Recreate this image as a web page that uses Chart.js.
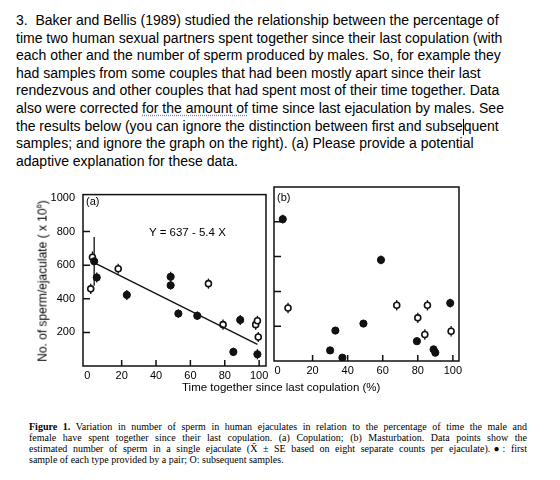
<!DOCTYPE html>
<html>
<head>
<meta charset="utf-8">
<script src="https://cdn.jsdelivr.net/npm/chart.js@4.4.0/dist/chart.umd.min.js"></script>
<style>
  body { margin: 0; width: 560px; height: 480px; background: #fff; position: relative; overflow: hidden;
         font-family: Arial, "Liberation Sans", sans-serif; color: #111; }
  #question { position: absolute; left: 16px; top: 12px; font-size: 14px; line-height: 17.6px; white-space: nowrap; color: #000; }
  .dots { text-decoration: underline dotted #7f7fcf; text-underline-offset: 2px; }
  .cursor { display: inline-block; width: 0; height: 16px; border-left: 1px solid #000; vertical-align: -4px; }
  .box { position: absolute; }
  .lbl { position: absolute; font-size: 11px; white-space: nowrap; line-height: 1; color: #000; }
  #ytitle { position: absolute; left: 42px; top: 281px; font-size: 12px; white-space: nowrap; color: #000;
            transform: translate(-50%, -50%) rotate(-90deg); }
  #caption { position: absolute; left: 29px; top: 421px; width: 498px; font-family: "Liberation Serif", "Times New Roman", serif;
             font-size: 10px; line-height: 11px; color: #000; }
  #caption div { text-align: justify; text-align-last: justify; white-space: nowrap; }
  #caption div.last { text-align-last: left; }
</style>
</head>
<body>

<div id="question">
3.&nbsp; Baker and Bellis (1989) studied the relationship between the percentage of<br>
time two human sexual partners spent together since their last copulation (with<br>
each other and the number of sperm produced by males. So, for example they<br>
had samples from some couples that had been mostly apart since their last<br>
rendezvous and other couples that had spent most of their time together. Data<br>
also were corrected <span class="dots">for the amount of</span> time since last ejaculation by males. See<br>
the results below (you can ignore the distinction between first and subse<span class="cursor"></span>quent<br>
samples; and ignore the graph on the right). (a) Please provide a potential<br>
adaptive explanation for these data.
</div>

<div class="box" style="left:0px; top:180px; width:272px; height:220px;"><canvas id="panelA" width="272" height="220"></canvas></div>
<div class="box" style="left:268px; top:180px; width:200px; height:220px;"><canvas id="panelB" width="200" height="220"></canvas></div>

<div class="lbl" style="left:86px; top:196px;">(a)</div>
<div class="lbl" style="left:277px; top:192px;">(b)</div>
<div class="lbl" style="left:149px; top:227px; font-size:11.5px;">Y = 637 - 5.4 X</div>
<div class="lbl" style="left:182px; top:382px; font-size:11.5px;">Time together since last copulation (%)</div>
<div id="ytitle">No. of sperm/ejaculate ( x 10<sup style="font-size:7.5px">6</sup>)</div>

<div id="caption">
  <div><b>Figure 1.</b> Variation in number of sperm in human ejaculates in relation to the percentage of time the male and</div>
  <div>female have spent together since their last copulation. (a) Copulation; (b) Masturbation. Data points show the</div>
  <div>estimated number of sperm in a single ejaculate (X&#772; ± SE based on eight separate counts per ejaculate).&#9679;: first</div>
  <div class="last">sample of each type provided by a pair; O: subsequent samples.</div>
</div>

<script>
// eixos
const xTickVals = [0, 20, 40, 60, 80, 100];
const yTickVals = [200, 400, 600, 800, 1000];
const innerTicksX = [20, 40, 60, 80, 100];
const innerTicksY = [200, 400, 600, 800];

// (a) Copulation - first samples (filled)
const aFirstX  = [4, 5.5, 23, 48.5, 48.5, 53, 64, 89, 85, 99];
const aFirstY  = [623, 527, 423, 531, 480, 312, 299, 274, 84, 70];
const aFirstSE = [145, 30, 30, 30, 25, 25, 25, 30, 25, 30];
// (a) subsequent samples (open)
const aSubX  = [3, 2, 18, 70.5, 79, 98, 99, 99.5];
const aSubY  = [647, 459, 579, 490, 246, 246, 269, 173];
const aSubSE = [35, 30, 30, 30, 30, 30, 30, 30];
// linha de regressao
const regX = [3, 99];
const regY = [620, 128];

// (b) Masturbation - first samples (filled)
const bFirstX  = [3, 59, 98.5, 49, 33, 79.5, 30, 37, 89, 90];
const bFirstY  = [815, 581, 333, 215, 175, 114, 61, 19, 67, 48];
const bFirstSE = [25, 25, 25, 20, 20, 20, 20, 20, 20, 20];
// (b) subsequent samples (open)
const bSubX  = [6, 68, 85.5, 80, 99, 84];
const bSubY  = [305, 320, 320, 248, 171, 152];
const bSubSE = [30, 30, 30, 30, 30, 30];

const ink = '#111';
const pts = (xs, ys) => xs.map((x, i) => ({ x: x, y: ys[i] }));

// moldura + ticks para dentro
const framePlugin = {
    id: 'frame',
    afterDraw(chart, args, opts) {
        const { ctx, chartArea: a, scales: { x, y } } = chart;
        ctx.save();
        ctx.strokeStyle = ink;
        ctx.lineWidth = 1.5;
        ctx.strokeRect(a.left, a.top, a.right - a.left, a.bottom - a.top);
        ctx.beginPath();
        opts.xTicks.forEach(v => {
            const px = x.getPixelForValue(v);
            ctx.moveTo(px, a.bottom);
            ctx.lineTo(px, a.bottom - 6);
        });
        opts.yTicks.forEach(v => {
            const py = y.getPixelForValue(v);
            ctx.moveTo(a.left, py);
            ctx.lineTo(a.left + 7, py);
        });
        ctx.stroke();
        ctx.restore();
    }
};

// barras de erro (media +- SE)
const errorBarPlugin = {
    id: 'errbars',
    beforeDatasetsDraw(chart) {
        const { ctx, scales: { y } } = chart;
        ctx.save();
        ctx.strokeStyle = ink;
        ctx.lineWidth = 1.3;
        chart.data.datasets.forEach((ds, i) => {
            if (!ds.se) return;
            const meta = chart.getDatasetMeta(i);
            meta.data.forEach((el, j) => {
                const v = ds.data[j].y, e = ds.se[j];
                ctx.beginPath();
                ctx.moveTo(el.x, y.getPixelForValue(v - e));
                ctx.lineTo(el.x, y.getPixelForValue(v + e));
                ctx.stroke();
            });
        });
        ctx.restore();
    }
};

function makePanel(id, cfg) {
    const datasets = [
        { label: 'first', data: pts(cfg.firstX, cfg.firstY), se: cfg.firstSE,
          pointRadius: 3.6, pointBackgroundColor: ink, pointBorderColor: ink, pointBorderWidth: 1 },
        { label: 'subsequent', data: pts(cfg.subX, cfg.subY), se: cfg.subSE,
          pointRadius: 3, pointBackgroundColor: '#fff', pointBorderColor: ink, pointBorderWidth: 1.6 }
    ];
    if (cfg.regX) {
        datasets.unshift({ type: 'line', label: 'fit', data: pts(cfg.regX, cfg.regY),
            borderColor: ink, borderWidth: 1.4, pointRadius: 0, fill: false });
    }
    return new Chart(document.getElementById(id), {
        type: 'scatter',
        data: { datasets: datasets },
        options: {
            responsive: false,
            animation: false,
            layout: { padding: cfg.padding },
            plugins: {
                legend: { display: false },
                tooltip: { enabled: false },
                frame: { xTicks: innerTicksX, yTicks: innerTicksY }
            },
            scales: {
                x: {
                    type: 'linear', min: cfg.xMin, max: cfg.xMax,
                    afterBuildTicks: s => { s.ticks = xTickVals.map(v => ({ value: v })); },
                    afterFit: s => { s.height = cfg.xHeight; },
                    grid: { display: false, drawTicks: false },
                    border: { display: false },
                    ticks: { color: '#000', font: { family: 'Arial', size: 11 }, padding: 3, maxRotation: 0, autoSkip: false,
                             callback: v => String(v) }
                },
                y: {
                    type: 'linear', min: cfg.yMin, max: cfg.yMax,
                    afterBuildTicks: s => { s.ticks = yTickVals.map(v => ({ value: v })); },
                    afterFit: s => { s.width = cfg.yWidth; },
                    grid: { display: false, drawTicks: false },
                    border: { display: false },
                    ticks: { display: cfg.yLabels, color: '#000', font: { family: 'Arial', size: 11 }, padding: 8,
                             callback: v => String(v) }
                }
            }
        },
        plugins: [framePlugin, errorBarPlugin]
    });
}

makePanel('panelA', {
    firstX: aFirstX, firstY: aFirstY, firstSE: aFirstSE,
    subX: aSubX, subY: aSubY, subSE: aSubSE,
    regX: regX, regY: regY,
    xMin: -2.5, xMax: 104, yMin: 0, yMax: 1020,
    padding: { top: 8, right: 6, left: 0, bottom: 0 },
    xHeight: 34, yWidth: 83, yLabels: true
});

makePanel('panelB', {
    firstX: bFirstX, firstY: bFirstY, firstSE: bFirstSE,
    subX: bSubX, subY: bSubY, subSE: bSubSE,
    xMin: -2, xMax: 103.5, yMin: 0, yMax: 1000,
    padding: { top: 7, right: 9, left: 0, bottom: 0 },
    xHeight: 39, yWidth: 6, yLabels: false
});
</script>
</body>
</html>
